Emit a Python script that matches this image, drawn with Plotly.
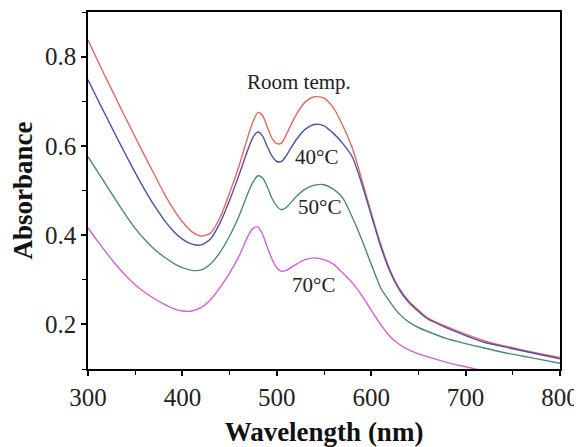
import plotly.graph_objects as go

wavelength = [300, 310, 320, 330, 340, 350, 360, 370, 380, 390, 400, 410, 420, 430, 440,
              450, 460, 470, 475, 480, 485, 490, 495, 500, 505, 510, 520, 530, 540, 550,
              560, 570, 580, 590, 600, 610, 620, 630, 640, 650, 660, 680, 700, 720, 740,
              760, 780, 800]

room_temp = [0.837, 0.792, 0.748, 0.705, 0.662, 0.62, 0.578, 0.537, 0.496, 0.46, 0.43, 0.408, 0.398, 0.405, 0.44,
             0.495, 0.555, 0.625, 0.655, 0.675, 0.668, 0.642, 0.617, 0.605, 0.606, 0.625, 0.668, 0.698, 0.71, 0.707,
             0.685, 0.645, 0.595, 0.525, 0.45, 0.38, 0.322, 0.28, 0.252, 0.232, 0.214, 0.195, 0.178, 0.163, 0.152,
             0.143, 0.134, 0.126]

t40 = [0.748, 0.705, 0.663, 0.621, 0.58, 0.54, 0.502, 0.467, 0.436, 0.41, 0.391, 0.38, 0.378, 0.392, 0.428,
       0.478, 0.535, 0.595, 0.62, 0.631, 0.622, 0.598, 0.577, 0.565, 0.565, 0.578, 0.612, 0.637, 0.648, 0.645,
       0.628, 0.605, 0.575, 0.515, 0.445, 0.375, 0.318, 0.277, 0.249, 0.229, 0.212, 0.192, 0.175, 0.16, 0.15,
       0.141, 0.132, 0.123]

t50 = [0.576, 0.543, 0.51, 0.477, 0.445, 0.415, 0.39, 0.369, 0.352, 0.338, 0.327, 0.321, 0.322, 0.336, 0.362,
       0.398, 0.443, 0.497, 0.52, 0.533, 0.528, 0.508, 0.482, 0.465, 0.457, 0.462, 0.485, 0.503, 0.512, 0.513,
       0.503, 0.483, 0.44, 0.39, 0.335, 0.282, 0.25, 0.223, 0.205, 0.193, 0.184, 0.168, 0.157, 0.147, 0.137,
       0.129, 0.121, 0.113]

t70 = [0.416, 0.387, 0.359, 0.333, 0.309, 0.289, 0.272, 0.258, 0.246, 0.236, 0.23, 0.23, 0.238, 0.256, 0.283,
       0.315, 0.353, 0.4, 0.415, 0.418, 0.402, 0.372, 0.346, 0.327, 0.319, 0.321, 0.334, 0.345, 0.349, 0.345,
       0.335, 0.315, 0.293, 0.265, 0.232, 0.2, 0.173, 0.155, 0.143, 0.134, 0.127, 0.115, 0.105, 0.096, 0.09,
       0.085, 0.08, 0.076]

series = [
    ("Room temp.", room_temp, "#e36a63"),
    ("40°C", t40, "#5050a8"),
    ("50°C", t50, "#4a8a78"),
    ("70°C", t70, "#d262d6"),
]

label_text = ["Room temp.", "40°C", "50°C", "70°C"]
label_x = [523, 542, 545, 539]
label_y = [0.744, 0.576, 0.464, 0.288]

x_ticks = [300, 400, 500, 600, 700, 800]
y_ticks = [0.2, 0.4, 0.6, 0.8]

FONT = "Liberation Serif, Times New Roman, serif"

fig = go.Figure()
for name, vals, col in series:
    fig.add_trace(go.Scatter(x=wavelength, y=vals, mode="lines", name=name,
                             line=dict(color=col, width=1.4, shape="spline", smoothing=0.7),
                             showlegend=False, cliponaxis=True))

for t, x, y in zip(label_text, label_x, label_y):
    fig.add_annotation(x=x, y=y, text=t, showarrow=False,
                       font=dict(family=FONT, size=21, color="#222222"))

axis_common = dict(showline=True, linecolor="black", linewidth=1.5, mirror=True,
                   ticks="outside", ticklen=5, tickwidth=1.5, tickcolor="black",
                   showgrid=False, zeroline=False, automargin=False,
                   tickfont=dict(family=FONT, size=25, color="#222222"))

fig.update_xaxes(range=[300, 800], tickvals=x_ticks,
                 title=dict(text="<b>Wavelength (nm)</b>", font=dict(family=FONT, size=27, color="#111111"), standoff=15),
                 minor=dict(ticks="outside", ticklen=4, tickwidth=1.2, tickcolor="black", dtick=50, tick0=300),
                 **axis_common)
fig.update_yaxes(range=[0.1, 0.9], tickvals=y_ticks, ticktext=["0.2", "0.4", "0.6", "0.8"],
                 title=dict(text="<b>Absorbance</b>", font=dict(family=FONT, size=27, color="#111111"), standoff=6),
                 minor=dict(ticks="outside", ticklen=4, tickwidth=1.2, tickcolor="black", dtick=0.1, tick0=0.1),
                 **axis_common)

# page body adds an 8px offset, so the figure is sized to the visible area
fig.update_layout(width=574, height=439, margin=dict(l=80, r=22, t=4, b=78, pad=0),
                  plot_bgcolor="white", paper_bgcolor="white")

fig.write_html("out.html")
